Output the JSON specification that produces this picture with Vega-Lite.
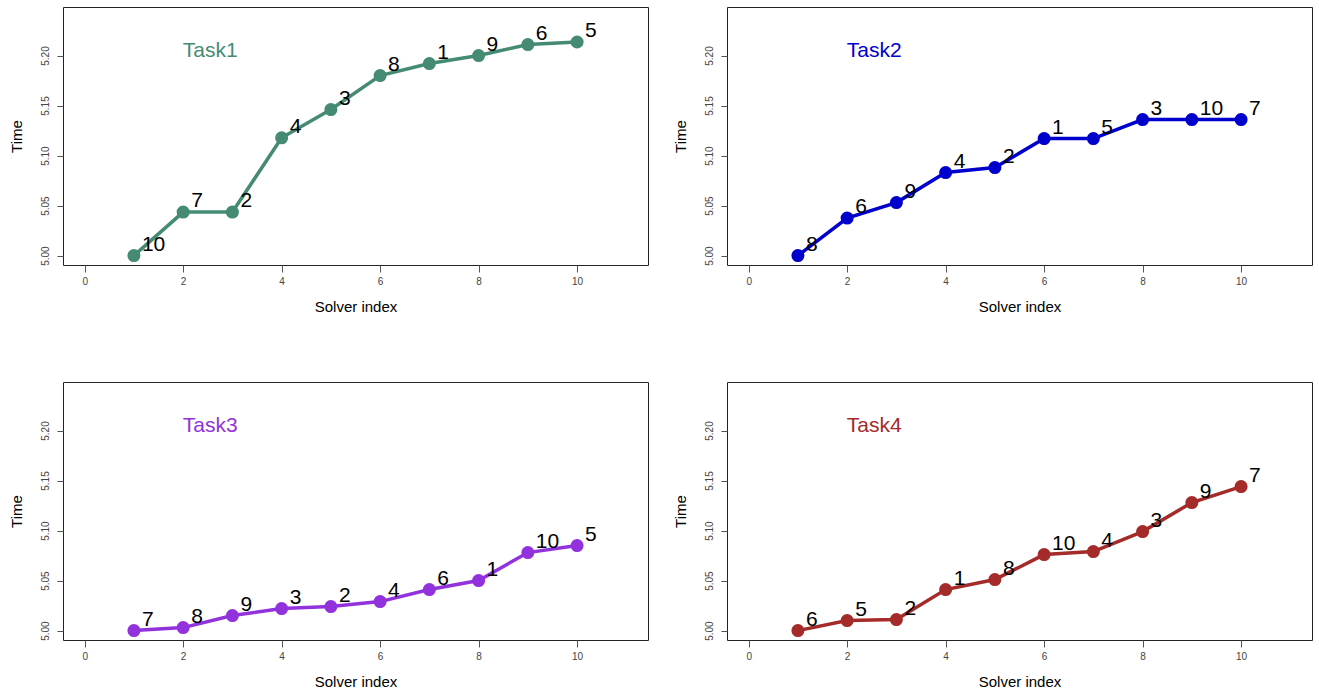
{
  "$schema": "https://vega.github.io/schema/vega-lite/v6.json",
  "background": "white",
  "padding": {"left": 8, "top": 6, "right": 5, "bottom": 5},
  "config": {
    "font": "Liberation Sans",
    "view": {"stroke": "#222", "strokeWidth": 1},
    "axisX": {
      "grid": false, "domain": false,
      "tickColor": "#555", "tickSize": 7, "labelFontSize": 10, "labelColor": "#444", "labelPadding": 4,
      "titleFontSize": 15, "titleFontWeight": "normal", "titleColor": "#000", "titlePadding": 13
    },
    "axisY": {
      "format": ".2f", "grid": false, "domain": false,
      "tickColor": "#555", "tickSize": 6, "labelFontSize": 10, "labelColor": "#444", "labelAngle": -90,
      "labelAlign": "center", "labelBaseline": "alphabetic", "labelPadding": 9,
      "titleFontSize": 15, "titleFontWeight": "normal", "titleColor": "#000", "titlePadding": 16
    },
    "line": {"strokeWidth": 3.5},
    "point": {"filled": true, "size": 170, "opacity": 1}
  },
  "datasets": {
    "times": [
      {"task": "Task1", "idx": 1, "time": 5.000, "solver": "10"},
      {"task": "Task1", "idx": 2, "time": 5.0435, "solver": "7"},
      {"task": "Task1", "idx": 3, "time": 5.0435, "solver": "2"},
      {"task": "Task1", "idx": 4, "time": 5.1177, "solver": "4"},
      {"task": "Task1", "idx": 5, "time": 5.146, "solver": "3"},
      {"task": "Task1", "idx": 6, "time": 5.180, "solver": "8"},
      {"task": "Task1", "idx": 7, "time": 5.192, "solver": "1"},
      {"task": "Task1", "idx": 8, "time": 5.200, "solver": "9"},
      {"task": "Task1", "idx": 9, "time": 5.211, "solver": "6"},
      {"task": "Task1", "idx": 10, "time": 5.2135, "solver": "5"},
      {"task": "Task2", "idx": 1, "time": 5.000, "solver": "8"},
      {"task": "Task2", "idx": 2, "time": 5.0375, "solver": "6"},
      {"task": "Task2", "idx": 3, "time": 5.053, "solver": "9"},
      {"task": "Task2", "idx": 4, "time": 5.083, "solver": "4"},
      {"task": "Task2", "idx": 5, "time": 5.088, "solver": "2"},
      {"task": "Task2", "idx": 6, "time": 5.117, "solver": "1"},
      {"task": "Task2", "idx": 7, "time": 5.117, "solver": "5"},
      {"task": "Task2", "idx": 8, "time": 5.136, "solver": "3"},
      {"task": "Task2", "idx": 9, "time": 5.136, "solver": "10"},
      {"task": "Task2", "idx": 10, "time": 5.136, "solver": "7"},
      {"task": "Task3", "idx": 1, "time": 5.000, "solver": "7"},
      {"task": "Task3", "idx": 2, "time": 5.003, "solver": "8"},
      {"task": "Task3", "idx": 3, "time": 5.015, "solver": "9"},
      {"task": "Task3", "idx": 4, "time": 5.022, "solver": "3"},
      {"task": "Task3", "idx": 5, "time": 5.024, "solver": "2"},
      {"task": "Task3", "idx": 6, "time": 5.029, "solver": "4"},
      {"task": "Task3", "idx": 7, "time": 5.041, "solver": "6"},
      {"task": "Task3", "idx": 8, "time": 5.050, "solver": "1"},
      {"task": "Task3", "idx": 9, "time": 5.078, "solver": "10"},
      {"task": "Task3", "idx": 10, "time": 5.085, "solver": "5"},
      {"task": "Task4", "idx": 1, "time": 5.000, "solver": "6"},
      {"task": "Task4", "idx": 2, "time": 5.010, "solver": "5"},
      {"task": "Task4", "idx": 3, "time": 5.011, "solver": "2"},
      {"task": "Task4", "idx": 4, "time": 5.041, "solver": "1"},
      {"task": "Task4", "idx": 5, "time": 5.051, "solver": "8"},
      {"task": "Task4", "idx": 6, "time": 5.076, "solver": "10"},
      {"task": "Task4", "idx": 7, "time": 5.079, "solver": "4"},
      {"task": "Task4", "idx": 8, "time": 5.099, "solver": "3"},
      {"task": "Task4", "idx": 9, "time": 5.128, "solver": "9"},
      {"task": "Task4", "idx": 10, "time": 5.144, "solver": "7"}
    ]
  },
  "data": {"name": "times"},
  "columns": 2,
  "spacing": {"row": 117, "column": 79},
  "bounds": "flush",
  "resolve": {"axis": {"x": "independent", "y": "independent"}},
  "concat": [
    {
      "transform": [{"filter": "datum.task == 'Task1'"}],
      "width": 585, "height": 258,
      "encoding": {
        "x": {"field": "idx", "type": "quantitative", "title": "Solver index", "axis": {"values": [0, 2, 4, 6, 8, 10]}, "scale": {"domain": [-0.44, 11.44], "nice": false, "zero": false}},
        "y": {"field": "time", "type": "quantitative", "title": "Time", "axis": {"values": [5.0, 5.05, 5.1, 5.15, 5.2]}, "scale": {"domain": [4.9906, 5.2485], "nice": false, "zero": false}},
        "color": {"field": "task", "type": "nominal", "legend": null, "scale": {"domain": ["Task1", "Task2", "Task3", "Task4"], "range": ["#458B74", "#0000CD", "#9232DC", "#A52A2A"]}}
      },
      "layer": [
        {"mark": "line", "encoding": {"order": {"field": "idx"}}},
        {"mark": "point"},
        {"mark": {"type": "text", "align": "left", "baseline": "alphabetic", "dx": 8, "dy": -5, "fontSize": 21}, "encoding": {"text": {"field": "solver"}, "color": {"value": "#000"}}},
        {"transform": [{"filter": "datum.idx == 1"}], "mark": {"type": "text", "align": "center", "baseline": "middle", "fontSize": 21}, "encoding": {"x": {"datum": 2.55}, "y": {"datum": 5.205}, "text": {"field": "task"}}}
      ]
    },
    {
      "transform": [{"filter": "datum.task == 'Task2'"}],
      "width": 585, "height": 258,
      "encoding": {
        "x": {"field": "idx", "type": "quantitative", "title": "Solver index", "axis": {"values": [0, 2, 4, 6, 8, 10]}, "scale": {"domain": [-0.44, 11.44], "nice": false, "zero": false}},
        "y": {"field": "time", "type": "quantitative", "title": "Time", "axis": {"values": [5.0, 5.05, 5.1, 5.15, 5.2]}, "scale": {"domain": [4.9906, 5.2485], "nice": false, "zero": false}},
        "color": {"field": "task", "type": "nominal", "legend": null, "scale": {"domain": ["Task1", "Task2", "Task3", "Task4"], "range": ["#458B74", "#0000CD", "#9232DC", "#A52A2A"]}}
      },
      "layer": [
        {"mark": "line", "encoding": {"order": {"field": "idx"}}},
        {"mark": "point"},
        {"mark": {"type": "text", "align": "left", "baseline": "alphabetic", "dx": 8, "dy": -5, "fontSize": 21}, "encoding": {"text": {"field": "solver"}, "color": {"value": "#000"}}},
        {"transform": [{"filter": "datum.idx == 1"}], "mark": {"type": "text", "align": "center", "baseline": "middle", "fontSize": 21}, "encoding": {"x": {"datum": 2.55}, "y": {"datum": 5.205}, "text": {"field": "task"}}}
      ]
    },
    {
      "transform": [{"filter": "datum.task == 'Task3'"}],
      "width": 585, "height": 258,
      "encoding": {
        "x": {"field": "idx", "type": "quantitative", "title": "Solver index", "axis": {"values": [0, 2, 4, 6, 8, 10]}, "scale": {"domain": [-0.44, 11.44], "nice": false, "zero": false}},
        "y": {"field": "time", "type": "quantitative", "title": "Time", "axis": {"values": [5.0, 5.05, 5.1, 5.15, 5.2]}, "scale": {"domain": [4.9906, 5.2485], "nice": false, "zero": false}},
        "color": {"field": "task", "type": "nominal", "legend": null, "scale": {"domain": ["Task1", "Task2", "Task3", "Task4"], "range": ["#458B74", "#0000CD", "#9232DC", "#A52A2A"]}}
      },
      "layer": [
        {"mark": "line", "encoding": {"order": {"field": "idx"}}},
        {"mark": "point"},
        {"mark": {"type": "text", "align": "left", "baseline": "alphabetic", "dx": 8, "dy": -5, "fontSize": 21}, "encoding": {"text": {"field": "solver"}, "color": {"value": "#000"}}},
        {"transform": [{"filter": "datum.idx == 1"}], "mark": {"type": "text", "align": "center", "baseline": "middle", "fontSize": 21}, "encoding": {"x": {"datum": 2.55}, "y": {"datum": 5.205}, "text": {"field": "task"}}}
      ]
    },
    {
      "transform": [{"filter": "datum.task == 'Task4'"}],
      "width": 585, "height": 258,
      "encoding": {
        "x": {"field": "idx", "type": "quantitative", "title": "Solver index", "axis": {"values": [0, 2, 4, 6, 8, 10]}, "scale": {"domain": [-0.44, 11.44], "nice": false, "zero": false}},
        "y": {"field": "time", "type": "quantitative", "title": "Time", "axis": {"values": [5.0, 5.05, 5.1, 5.15, 5.2]}, "scale": {"domain": [4.9906, 5.2485], "nice": false, "zero": false}},
        "color": {"field": "task", "type": "nominal", "legend": null, "scale": {"domain": ["Task1", "Task2", "Task3", "Task4"], "range": ["#458B74", "#0000CD", "#9232DC", "#A52A2A"]}}
      },
      "layer": [
        {"mark": "line", "encoding": {"order": {"field": "idx"}}},
        {"mark": "point"},
        {"mark": {"type": "text", "align": "left", "baseline": "alphabetic", "dx": 8, "dy": -5, "fontSize": 21}, "encoding": {"text": {"field": "solver"}, "color": {"value": "#000"}}},
        {"transform": [{"filter": "datum.idx == 1"}], "mark": {"type": "text", "align": "center", "baseline": "middle", "fontSize": 21}, "encoding": {"x": {"datum": 2.55}, "y": {"datum": 5.205}, "text": {"field": "task"}}}
      ]
    }
  ]
}
